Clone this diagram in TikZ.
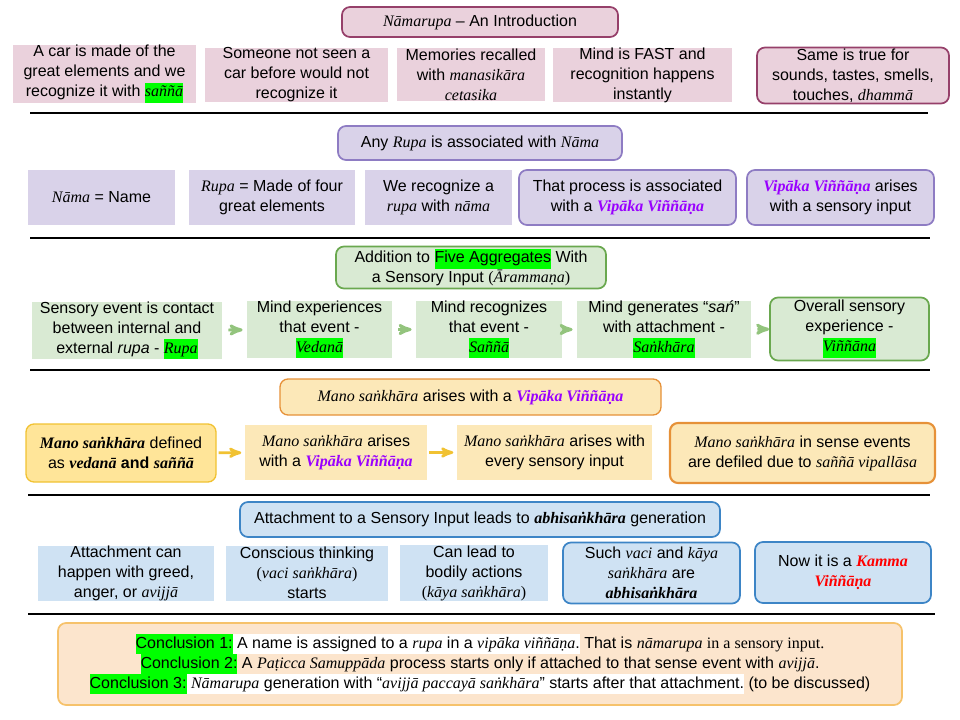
\documentclass[tikz,border=0pt]{standalone}
\usepackage{fontspec}
\setmainfont{Liberation Sans}
\newfontfamily\palifont{Liberation Serif}
\usepackage{xcolor}
\usetikzlibrary{arrows}

\definecolor{pinkfill}{HTML}{EAD1DC}
\definecolor{pinkline}{HTML}{96406A}
\definecolor{lavfill}{HTML}{D9D2E9}
\definecolor{lavline}{HTML}{8E7CC3}
\definecolor{grnfill}{HTML}{D9EAD3}
\definecolor{grnline}{HTML}{6AA84F}
\definecolor{grnarrow}{HTML}{93C47D}
\definecolor{orfill}{HTML}{FCE8B8}
\definecolor{yelfill}{HTML}{FFE599}
\definecolor{yelline}{HTML}{F1C232}
\definecolor{orline}{HTML}{E69138}
\definecolor{blufill}{HTML}{CFE2F3}
\definecolor{bluline}{HTML}{3D85C6}
\definecolor{concfill}{HTML}{FCE5CD}
\definecolor{concline}{HTML}{F6C26B}
\definecolor{hlgreen}{HTML}{00FF00}
\definecolor{vpurple}{HTML}{9900FF}
\definecolor{kred}{HTML}{FF0000}

\newcommand{\pl}[1]{{\palifont\itshape #1}}
\newcommand{\plb}[1]{{\palifont\bfseries\itshape #1}}
\newcommand{\hl}[1]{{\fboxsep=0pt\colorbox{hlgreen}{\strut #1}}}
\newcommand{\hw}[1]{{\fboxsep=0pt\colorbox{white}{\strut #1}}}
\newcommand{\vv}{{\color{vpurple}\plb{Vipāka Viññāṇa}}}

\begin{document}
\begin{tikzpicture}[>=stealth',x=0.75pt,y=-0.75pt,semithick]
\tikzset{every node/.style={align=center,inner sep=0pt,font=\fontsize{12}{15}\selectfont}}
\tikzstyle{edgy} = [line width=1.3pt,rounded corners=6pt]
\tikzstyle{pinkbox} = [fill=pinkfill]
\tikzstyle{pinkround} = [pinkbox,edgy,draw=pinkline]
\tikzstyle{lavbox} = [fill=lavfill]
\tikzstyle{lavround} = [lavbox,edgy,draw=lavline]
\tikzstyle{grnbox} = [fill=grnfill]
\tikzstyle{grnround} = [grnbox,edgy,draw=grnline]
\tikzstyle{orbox} = [fill=orfill]
\tikzstyle{blubox} = [fill=blufill]
\tikzstyle{bluround} = [blubox,edgy,draw=bluline]
\tikzstyle{sepline} = [line width=0.9pt,black]
\useasboundingbox (0,0) rectangle (960,720);

    % Namarupa intro
    \node[pinkround,minimum width=207pt,minimum height=22.5pt] (t1) at (480,22) {\pl{Nāmarupa} – An Introduction};
    \node[pinkbox,minimum width=137.25pt,minimum height=42pt] (a1) at (104.5,74) {A car is made of the\\great elements and we\\recognize it with \hl{\pl{saññā}}};
    \node[pinkbox,minimum width=137.25pt,minimum height=39.75pt] (a2) at (296.5,75) {Someone not seen a\\car before would not\\recognize it};
    \node[pinkbox,minimum width=111pt,minimum height=39.75pt] (a3) at (471,75) {Memories recalled\\with \pl{manasikāra}\\\pl{cetasika}};
    \node[pinkbox,minimum width=134.25pt,minimum height=39.75pt] (a4) at (642.5,75) {Mind is FAST and\\recognition happens\\instantly};
    \node[pinkround,minimum width=144pt,minimum height=42pt] (a5) at (853,75.5) {Same is true for\\sounds, tastes, smells,\\touches, \pl{dhammā}};
    \draw[sepline] (30,113) -- (928,113);

    % Rupa and Nama
    \node[lavround,minimum width=213pt,minimum height=25.5pt] (t2) at (480,143) {Any \pl{Rupa} is associated with \pl{Nāma}};
    \node[lavbox,minimum width=110.25pt,minimum height=41.25pt] (b1) at (101.5,197.5) {\pl{Nāma} = Name};
    \node[lavbox,minimum width=124.5pt,minimum height=41.25pt] (b2) at (272,197.5) {\pl{Rupa} = Made of four\\great elements};
    \node[lavbox,minimum width=110.25pt,minimum height=41.25pt] (b3) at (438.5,197.5) {We recognize a\\\pl{rupa} with \pl{nāma}};
    \node[lavround,minimum width=162.75pt,minimum height=41.25pt] (b4) at (627.5,197.5) {That process is associated\\with a \vv};
    \node[lavround,minimum width=140.25pt,minimum height=41.25pt] (b5) at (840.5,197.5) {\vv{} arises\\with a sensory input};
    \draw[sepline] (30,238) -- (930,238);

    % five aggregates
    \node[grnround,minimum width=202.5pt,minimum height=31.5pt] (t3) at (471,267.5) {Addition to \hl{Five Aggregates} With\\a Sensory Input {\palifont(\textit{Ārammaṇa})}};
    \node[grnbox,minimum width=142.5pt,minimum height=38.25pt] (c1) at (127,330.5) {Sensory event is contact\\between internal and\\external \textit{rupa} - \hl{\pl{Rupa}}};
    \node[grnbox,minimum width=108.75pt,minimum height=40.5pt] (c2) at (319.5,329.5) {Mind experiences\\that event -\\\hl{\pl{Vedanā}}};
    \node[grnbox,minimum width=109.5pt,minimum height=40.5pt] (c3) at (489,329.5) {Mind recognizes\\that event -\\\hl{\pl{Saññā}}};
    \node[grnbox,minimum width=130.5pt,minimum height=40.5pt] (c4) at (664,329.5) {Mind generates “\textit{sań}”\\with attachment -\\\hl{\pl{Saṅkhāra}}};
    \node[grnround,minimum width=119.25pt,minimum height=47.25pt] (c5) at (849.5,329) {Overall sensory\\experience -\\\hl{\pl{Viññāna}}};

    \tikzset{grnflow/.style={->,grnarrow,line width=2.2pt,shorten <=4.5pt,shorten >=3pt}}
    \draw (c1) edge [grnflow] (c2);
    \draw (c2) edge [grnflow] (c3);
    \draw (c3) edge [grnflow] (c4);
    \draw (c4) edge [grnflow,shorten >=0pt] (c5);
    \draw[sepline] (30,370) -- (930,370);

    % mano sankhara
    \node[orbox,edgy,draw=orline,line width=1pt,minimum width=285.75pt,minimum height=27pt] (t4) at (470.5,397) {\pl{Mano saṅkhāra} arises with a \vv};
    \node[fill=yelfill,edgy,draw=yelline,line width=1pt,minimum width=142.5pt,minimum height=43.5pt] (d1) at (121,453) {\plb{Mano saṅkhāra} defined\\as \plb{vedanā} \textbf{and} \plb{saññā}};
    \node[orbox,minimum width=136.5pt,minimum height=41.25pt] (d2) at (336,452.5) {\pl{Mano saṅkhāra} arises\\with a \vv};
    \node[orbox,minimum width=146.25pt,minimum height=41.25pt] (d3) at (554.5,452.5) {\pl{Mano saṅkhāra} arises with\\every sensory input};
    \node[orbox,edgy,draw=orline,line width=1.6pt,minimum width=198.75pt,minimum height=45pt] (d4) at (802.5,453) {\pl{Mano saṅkhāra} in sense events\\are defiled due to \pl{saññā vipallāsa}};

    \tikzset{yelflow/.style={->,yelline,line width=2pt,shorten <=1.5pt,shorten >=2.5pt}}
    \draw (d1) edge [yelflow] (d2);
    \draw (d2) edge [yelflow] (d3);
    \draw[sepline] (28,495) -- (930,495);

    % abhisankhara
    \node[bluround,minimum width=360pt,minimum height=26.25pt] (t5) at (480,519.5) {Attachment to a Sensory Input leads to \plb{abhisaṅkhāra} generation};
    \node[blubox,minimum width=132pt,minimum height=41.25pt] (e1) at (126,573) {Attachment can\\happen with greed,\\anger, or \pl{avijjā}};
    \node[blubox,minimum width=121.5pt,minimum height=41.25pt] (e2) at (307,573) {Conscious thinking\\{\palifont(\textit{vaci saṅkhāra})}\\starts};
    \node[blubox,minimum width=111pt,minimum height=41.25pt] (e3) at (474,573) {Can lead to\\bodily actions\\{\palifont(\textit{kāya saṅkhāra})}};
    \node[bluround,minimum width=132.75pt,minimum height=45.75pt] (e4) at (651.5,573) {Such \pl{vaci} and \pl{kāya}\\\pl{saṅkhāra} are\\\plb{abhisaṅkhāra}};
    \node[bluround,minimum width=132pt,minimum height=45.75pt] (e5) at (843,572.5) {Now it is a {\color{kred}\plb{Kamma}}\\{\color{kred}\plb{Viññāṇa}}};
    \draw[sepline] (28,614) -- (935,614);

    % conclusions
    \node[fill=concfill,edgy,draw=concline,minimum width=633pt,minimum height=61.5pt] (f1) at (480,664) {\hl{Conclusion 1:}\hw{ A name is assigned to a \pl{rupa} in a \pl{vipāka viññāṇa}.} That is \pl{nāmarupa} {\palifont in a sensory input.}\\
    \hl{Conclusion 2:} A \pl{Paṭicca Samuppāda} process starts only if attached to that sense event with \pl{avijjā}.\\
    \hl{Conclusion 3:}\hw{ \pl{Nāmarupa} generation with “\pl{avijjā paccayā saṅkhāra}” starts after that attachment.} (to be discussed)};
\end{tikzpicture}
\end{document}
